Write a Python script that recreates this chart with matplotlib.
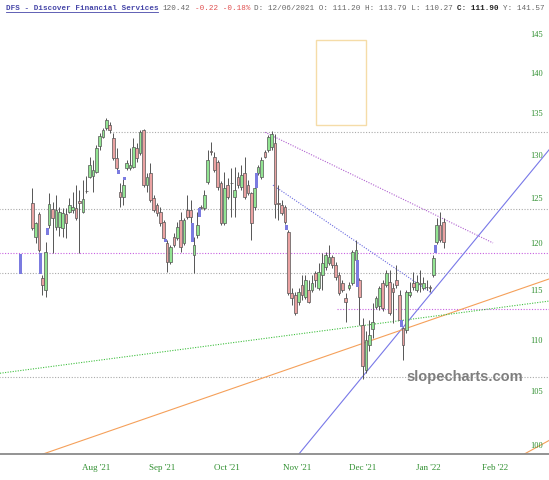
import numpy as np
import matplotlib
matplotlib.use("Agg")
import matplotlib.pyplot as plt
from matplotlib.patches import Rectangle
from matplotlib.lines import Line2D

# daily candles, index 0 = first visible session (mid Jul '21)
opens = [124.6, 120.8, 123.3, 116.4, 115.1, 122.1, 123.9, 121.9, 121.9, 121.8,
         123.3, 123.6, 123.8, 124.0, 124.8, 123.6, 125.9, 127.5, 127.6, 128.1,
         131.2, 132.2, 133.3, 133.7, 132.1, 129.8, 125.8, 125.3, 128.6, 128.6,
         128.7, 130.9, 130.3, 133.1, 126.6, 128.0, 125.1, 124.4, 123.6, 122.4,
         120.2, 118.1, 120.8, 120.7, 122.7, 120.2, 123.8, 123.8, 118.9, 121.0,
         124.1, 124.0, 127.0, 130.6, 129.9, 129.3, 126.8, 122.3, 126.6, 126.9,
         125.3, 127.5, 126.4, 128.0, 126.6, 125.7, 124.1, 128.0, 127.5, 130.5,
         130.7, 131.0, 131.5, 124.6, 124.3, 124.1, 121.3, 114.8, 114.6, 113.9,
         115.7, 114.4, 115.1, 115.1, 116.9, 115.4, 116.7, 117.6, 118.0, 118.6,
         117.8, 116.7, 115.9, 114.3, 115.4, 115.9, 118.3, 116.2, 111.6, 107.1,
         109.6, 111.2, 113.4, 113.5, 115.9, 115.7, 116.0, 115.4, 116.2, 114.6,
         111.3, 111.1, 114.6, 115.9, 115.1, 115.9, 115.4, 115.5, 115.5, 116.7,
         120.3, 122.1, 122.5]
highs = [126.3, 122.5, 123.6, 116.7, 120.3, 125.7, 124.7, 125.5, 124.1, 124.0,
         124.0, 125.1, 125.8, 126.6, 126.1, 127.2, 127.6, 129.9, 129.5, 131.3,
         132.7, 133.3, 134.5, 134.0, 132.7, 130.9, 126.9, 127.4, 129.5, 130.9,
         132.1, 131.5, 133.1, 133.2, 128.0, 129.2, 125.5, 124.6, 124.1, 122.7,
         120.5, 119.9, 121.2, 122.5, 123.6, 122.9, 125.5, 124.9, 120.8, 123.6,
         124.3, 126.1, 130.7, 131.6, 130.5, 129.5, 127.1, 128.1, 127.4, 128.6,
         128.7, 128.1, 128.9, 129.9, 127.2, 125.8, 126.6, 128.9, 129.9, 130.7,
         132.5, 132.9, 132.6, 126.6, 124.9, 124.3, 121.6, 115.4, 114.9, 115.4,
         116.7, 116.7, 116.2, 116.7, 117.1, 118.0, 119.1, 119.2, 119.9, 118.9,
         118.1, 117.0, 116.2, 114.8, 116.0, 119.4, 120.5, 116.4, 112.3, 111.0,
         112.1, 113.79, 114.5, 115.6, 116.2, 117.3, 117.3, 115.9, 117.8, 115.1,
         111.4, 115.1, 116.0, 117.0, 116.7, 117.3, 116.5, 116.2, 115.7, 118.9,
         122.9, 123.6, 122.9]
lows = [121.6, 120.1, 119.2, 114.6, 114.4, 121.8, 119.1, 121.6, 120.9, 120.8,
        120.7, 123.4, 123.4, 122.7, 119.1, 123.4, 125.7, 127.4, 125.8, 128.0,
        130.7, 132.1, 133.1, 132.7, 129.5, 128.4, 124.1, 124.4, 128.4, 128.4,
        128.6, 129.3, 130.1, 126.4, 125.8, 124.7, 123.6, 123.1, 122.0, 120.5,
        117.0, 117.9, 119.7, 120.5, 119.2, 119.9, 122.8, 121.8, 116.9, 120.7,
        123.9, 123.8, 126.7, 130.1, 128.1, 126.1, 122.1, 122.1, 125.0, 123.0,
        123.0, 126.3, 126.1, 125.0, 125.5, 120.5, 123.8, 127.8, 127.3, 129.8,
        130.5, 130.7, 122.9, 122.7, 123.2, 122.2, 114.6, 113.6, 112.6, 113.6,
        114.1, 114.2, 113.8, 114.9, 115.5, 115.1, 115.1, 117.3, 117.8, 117.5,
        116.2, 114.6, 114.9, 111.9, 115.1, 115.7, 118.0, 111.6, 106.2, 106.8,
        109.0, 110.27, 113.2, 113.1, 113.0, 115.5, 112.6, 111.8, 115.4, 111.9,
        108.1, 110.8, 114.4, 115.1, 114.9, 114.9, 115.1, 115.1, 114.9, 116.5,
        120.0, 120.3, 119.6]
closes = [121.8, 122.3, 119.4, 115.7, 119.2, 124.5, 122.9, 123.8, 123.6, 123.5,
          122.3, 124.4, 124.1, 122.9, 124.6, 125.0, 125.9, 128.9, 128.3, 130.9,
          132.3, 133.1, 134.3, 133.1, 129.8, 128.6, 125.3, 126.6, 129.1, 128.9,
          131.0, 129.8, 132.8, 126.6, 127.5, 124.9, 123.8, 123.4, 122.3, 120.7,
          118.1, 119.7, 119.9, 121.9, 119.7, 122.7, 123.0, 123.0, 119.9, 122.1,
          124.05, 125.5, 129.5, 130.5, 128.4, 126.4, 122.3, 126.3, 125.3, 126.8,
          126.1, 126.6, 127.8, 125.3, 125.7, 122.3, 126.3, 128.7, 129.5, 129.9,
          132.2, 132.6, 124.5, 124.5, 123.4, 122.4, 114.8, 114.3, 112.8, 114.9,
          114.6, 116.2, 113.9, 115.9, 116.2, 117.0, 118.0, 118.9, 118.6, 117.8,
          116.5, 114.8, 115.1, 113.9, 115.7, 119.2, 119.4, 114.4, 107.5, 110.1,
          110.6, 111.9, 114.3, 115.4, 113.3, 116.9, 112.8, 114.9, 115.7, 112.1,
          109.6, 114.9, 114.9, 115.5, 116.0, 115.8, 115.9, 115.45, 115.4, 118.5,
          122.1, 120.5, 120.3]

# gap markers (blue blocks): position, low, high
gap_pos = [-3.5, 2.5, 4.5, 25.5, 27.5, 39.5, 47.5, 49.5, 66.5, 75.5, 96.5, 109.5, 119.5]
gap_lo = [116.8, 116.8, 121.0, 127.9, 127.2, 120.3, 120.3, 123.0, 126.3, 121.6, 115.5, 111.4, 119.1]
gap_hi = [119.0, 119.1, 121.8, 128.4, 127.5, 120.6, 122.3, 124.0, 128.0, 122.1, 118.3, 112.1, 119.9]

month_labels = ["Aug '21", "Sep '21", "Oct '21", "Nov '21", "Dec '21", "Jan '22", "Feb '22"]
month_pos = [18.9, 38.5, 57.8, 78.5, 98.1, 117.4, 137.3]
price_ticks = [100, 105, 110, 115, 120, 125, 130, 135, 140, 145]

# horizontal levels: price, start position, colour
levels = [(132.8, 23, "#aaaaaa"), (123.9, -10, "#aaaaaa"), (119.07, -10, "#c860e0"),
          (116.96, -10, "#aaaaaa"), (113.2, 90.4, "#c860e0"), (106.4, -10, "#aaaaaa")]

# trend lines: (x0, p0), (x1, p1), colour, style
trends = [((69.05, 132.8), (136.7, 120.15), "#b060d0", ":"),
          ((71.4, 126.6), (118.6, 114.8), "#6a6ae0", ":"),
          ((79.1, 99.28), (153.3, 130.7), "#7878e8", "-"),
          ((3.2, 99.28), (153.3, 116.3), "#f5a05a", "-"),
          ((146.0, 99.28), (153.3, 100.5), "#f5a05a", "-"),
          ((-9.58, 106.8), (153.3, 114.0), "#40c040", ":")]

fig = plt.figure(figsize=(5.49, 4.8), dpi=100)
ax = fig.add_axes([0, 26 / 480, 1, 436 / 480])
ax.set_yscale("log")
ax.set_xlim(-9.58, 153.3)
ax.set_ylim(99.28, 147.25)

o = np.array(opens)
h = np.array(highs)
l = np.array(lows)
c = np.array(closes)
x = np.arange(len(o))

for p, xs, col in levels:
    ax.hlines(p, xs, 153.3, colors=col, linestyles=(0, (1, 1.5)), lw=0.8, zorder=1)

for (x0, p0), (x1, p1), col, ls in trends:
    if ls == ":":
        ax.plot([x0, x1], [p0, p1], color=col, lw=0.8, ls=(0, (1, 1.3)), zorder=1)
    else:
        ax.plot([x0, x1], [p0, p1], color=col, lw=0.8, zorder=1)

ax.add_patch(Rectangle((84.2, 133.7), 14.8, 10.6, fill=False,
                       edgecolor="#f5dca8", lw=1.0, zorder=1))

ax.vlines(x, l, h, colors="#555555", lw=0.7, zorder=2)
up = c >= o
body_lo = np.minimum(o, c)
body_h = np.maximum(np.abs(c - o), 0.06)
ax.bar(x[up], body_h[up], bottom=body_lo[up], width=0.8, color="#92e492",
       edgecolor="#555555", lw=0.5, zorder=3)
ax.bar(x[~up], body_h[~up], bottom=body_lo[~up], width=0.8, color="#eaa2a2",
       edgecolor="#555555", lw=0.5, zorder=3)

gl = np.array(gap_lo)
gh = np.array(gap_hi)
ax.bar(gap_pos, gh - gl, bottom=gl, width=0.9, color="#7b7be0", lw=0, zorder=3)

for sp in ["top", "left", "right"]:
    ax.spines[sp].set_visible(False)
ax.spines["bottom"].set_color("#8a8a8a")
ax.spines["bottom"].set_linewidth(1.3)
ax.set_yticks([])
ax.yaxis.set_minor_locator(matplotlib.ticker.NullLocator())
ax.set_xticks(month_pos)
ax.set_xticklabels(month_labels, color="#2f8f2f", fontsize=6.5, family="Liberation Serif")
ax.tick_params(axis="x", length=0, pad=7)

for p in price_ticks:
    ax.text(0.978, p, str(p), transform=ax.get_yaxis_transform(), ha="center",
            va="center", color="#2f8f2f", fontsize=6, family="Liberation Serif")

fig.text(465 / 549, 1 - 377 / 480, "slopecharts.com", ha="center", va="center",
         fontsize=10.5, fontweight="bold", color="#7f7f7f", family="Liberation Sans")

# header line
cw = 4.6
pieces = [(0, "DFS - Discover Financial Services", "#4646a8", "bold"),
          (34, "120.42", "#666666", "normal"),
          (41, "-0.22 -0.18%", "#e05050", "normal"),
          (54, "D: 12/06/2021 O: 111.20 H: 113.79 L: 110.27", "#666666", "normal"),
          (98, "C: 111.90", "#222222", "bold"),
          (108, "Y: 141.57", "#666666", "normal")]
for n, txt, col, wt in pieces:
    fig.text((6 + n * cw) / 549, 1 - 10 / 480, txt, ha="left", va="baseline",
             fontsize=5.5, color=col, fontweight=wt, family="Liberation Mono")
fig.add_artist(Line2D([6 / 549, (6 + 33 * cw) / 549], [1 - 12 / 480, 1 - 12 / 480],
                      color="#4646a8", lw=0.6))

fig.savefig("out.png", dpi=100)
